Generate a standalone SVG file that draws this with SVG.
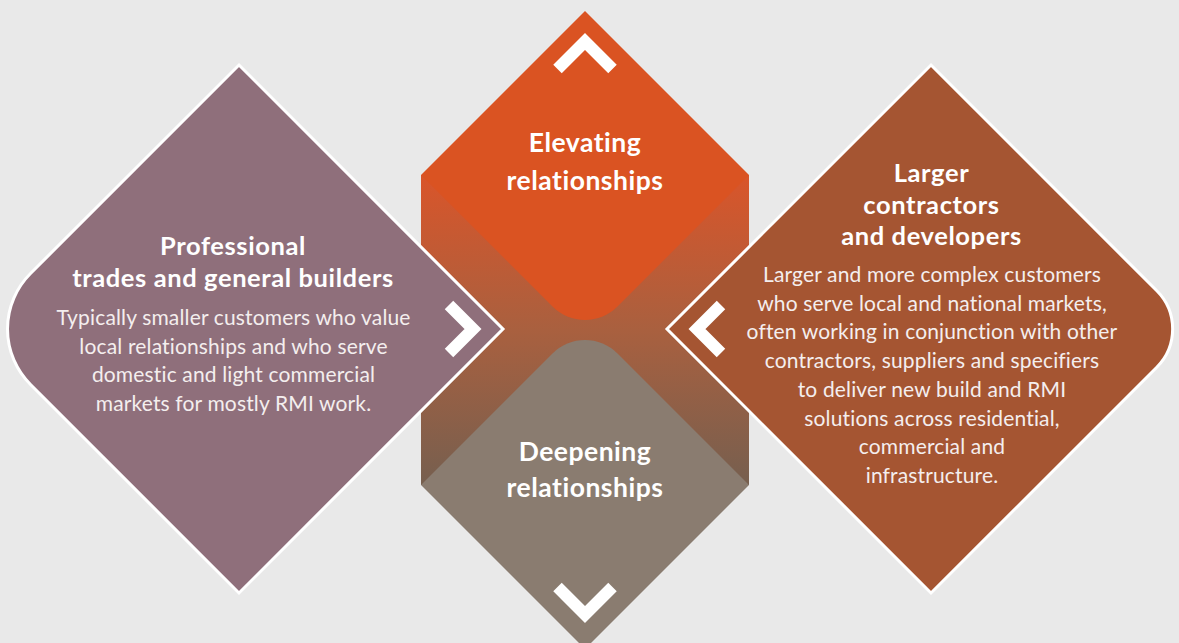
<svg xmlns="http://www.w3.org/2000/svg" width="1179" height="643" viewBox="0 0 1179 643">
  <defs>
    <linearGradient id="bandFill" x1="0" y1="0" x2="0" y2="1">
      <stop offset="0" stop-color="#d9552a"/>
      <stop offset="0.5" stop-color="#a9603f"/>
      <stop offset="1" stop-color="#765f4f"/>
    </linearGradient>
    <style>
      .title { font-family: Lato, "Open Sans", sans-serif; font-weight: 700; fill: #ffffff; text-anchor: middle; }
      .side-title { font-size: 25.5px; letter-spacing: 0.6px; }
      .mid-title { font-size: 26.5px; letter-spacing: 0.5px; }
      .body { font-family: Lato, "Open Sans", sans-serif; font-weight: 400; font-size: 21px; letter-spacing: 0.15px; fill: #f4eeee; text-anchor: middle; }
      .side { stroke: #ffffff; stroke-width: 3; }
      .chevron { fill: none; stroke: #ffffff; stroke-width: 12; stroke-linecap: butt; stroke-linejoin: miter; }
    </style>
  </defs>

  <rect width="1179" height="643" fill="#e9e9e9"/>

  <!-- vertical band behind the two central diamonds -->
  <g id="band">
    <rect x="421" y="175" width="328" height="310" fill="url(#bandFill)"/>
  </g>

  <g id="elevating">
    <path d="M585,11 L749,175 L617.5,306.5 A46,46 0 0 1 552.5,306.5 L421,175 Z" fill="#da5322"/>
    <text class="title mid-title" x="585" y="152">Elevating</text>
    <text class="title mid-title" x="585" y="190">relationships</text>
  </g>

  <g id="deepening">
    <path d="M421,485 L552.5,353.5 A46,46 0 0 1 617.5,353.5 L749,485 L585,649 Z" fill="#8a7c70"/>
    <text class="title mid-title" x="585" y="461">Deepening</text>
    <text class="title mid-title" x="585" y="497">relationships</text>
  </g>

  <g id="professional">
    <path class="side" d="M239,65 L503,329 L239,593 L30.5,384.5 A78.5,78.5 0 0 1 30.5,273.5 Z" fill="#8f6f7b"/>
    <text class="title side-title" x="233" y="255">Professional</text>
    <text class="title side-title" x="233" y="287">trades and general builders</text>
    <text class="body" x="233.5" y="325">Typically smaller customers who value</text>
    <text class="body" x="233.5" y="353.7">local relationships and who serve</text>
    <text class="body" x="233.5" y="382.4">domestic and light commercial</text>
    <text class="body" x="233.5" y="411">markets for mostly RMI work.</text>
  </g>

  <g id="larger">
    <path class="side" d="M931,65 L1156.8,290.8 A54,54 0 0 1 1156.8,367.2 L931,593 L667,329 Z" fill="#a55532"/>
    <text class="title side-title" x="931.5" y="182">Larger</text>
    <text class="title side-title" x="931.5" y="213.5">contractors</text>
    <text class="title side-title" x="931.5" y="245">and developers</text>
    <text class="body" x="932" y="282">Larger and more complex customers</text>
    <text class="body" x="932" y="310.7">who serve local and national markets,</text>
    <text class="body" x="932" y="339.4">often working in conjunction with other</text>
    <text class="body" x="932" y="368">contractors, suppliers and specifiers</text>
    <text class="body" x="932" y="397">to deliver new build and RMI</text>
    <text class="body" x="932" y="425.5">solutions across residential,</text>
    <text class="body" x="932" y="454">commercial and</text>
    <text class="body" x="932" y="483">infrastructure.</text>
  </g>

  <!-- direction chevrons -->
  <g id="connectors">
    <polyline class="chevron" points="557.5,69 585,41.5 612.5,69"/>
    <polyline class="chevron" points="557.5,587 585,614.5 612.5,587"/>
    <polyline class="chevron" points="449,305 473,329 449,353"/>
    <polyline class="chevron" points="721,305 697,329 721,353"/>
  </g>
</svg>
